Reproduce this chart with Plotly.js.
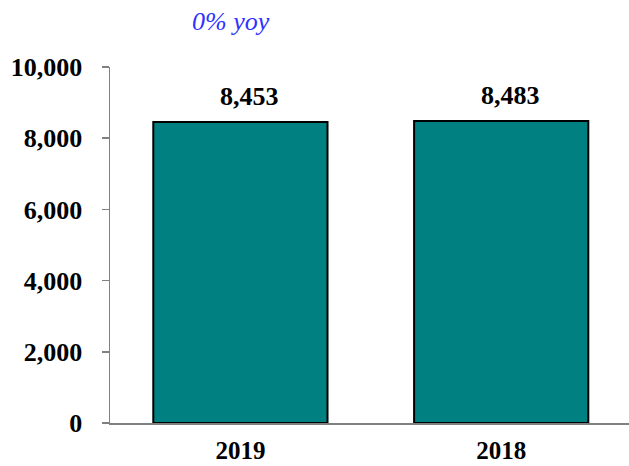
<!DOCTYPE html>
<html><head><meta charset="utf-8">
<script src="https://cdn.plot.ly/plotly-3.0.1.min.js"></script>
<style>html,body{margin:0;padding:0;background:#fff}</style>
</head><body><div id="chart" style="width:629px;height:466px"></div>
<script>
const categories = ["2019", "2018"];
const values = [8453, 8483];
const valueLabels = ["8,453", "8,483"];
const yTickVals = [0, 2000, 4000, 6000, 8000, 10000];
const yTickText = ["0", "2,000", "4,000", "6,000", "8,000", "10,000"];
const yoyText = "0% yoy";

const FONT = "'Palatino Linotype', 'Book Antiqua', Palatino, 'Liberation Serif', serif";

const trace = {
  type: "bar",
  x: categories.map((c, i) => i),
  y: values,
  width: 0.668,
  marker: {color: "#008080", line: {color: "#000000", width: 2}},
  hoverinfo: "skip"
};

const annotations = categories.map((c, i) => ({
  x: i, y: values[i], xref: "x", yref: "y",
  text: "<b>" + valueLabels[i] + "</b>",
  showarrow: false, yanchor: "bottom", xanchor: "center", yshift: 9, xshift: 9,
  font: {family: FONT, size: 26, color: "#000"}
}));
annotations.push({
  x: (231 - 110) / 519, y: (423 - 21) / 356, xref: "paper", yref: "paper",
  xanchor: "center", yanchor: "middle",
  text: "<i>" + yoyText + "</i>", showarrow: false,
  font: {family: FONT, size: 26, color: "#3030ff"}
});

const layout = {
  width: 629, height: 466,
  margin: {l: 110, r: 0, t: 67, b: 43, pad: 0},
  paper_bgcolor: "#fff", plot_bgcolor: "#fff",
  showlegend: false,
  xaxis: {
    range: [-0.5, 1.49], tickvals: [0, 1],
    ticktext: categories.map(c => "<b>" + c + "</b>"),
    showline: true, linecolor: "#808080", linewidth: 1.5,
    ticks: "", showgrid: false, zeroline: false, automargin: false,
    tickfont: {family: FONT, size: 25, color: "#000"},
    ticklabelstandoff: 4
  },
  yaxis: {
    range: [0, 10000], tickvals: yTickVals,
    ticktext: yTickText.map(t => "<b>" + t + "</b>"),
    showline: true, linecolor: "#808080", linewidth: 1.5,
    ticks: "outside", ticklen: 7, tickcolor: "#808080", tickwidth: 1.5,
    showgrid: false, zeroline: false, automargin: false,
    tickfont: {family: FONT, size: 26, color: "#000"},
    ticklabelstandoff: 14
  },
  annotations: annotations
};

Plotly.newPlot("chart", [trace], layout, {displayModeBar: false, staticPlot: true});
</script></body></html>
